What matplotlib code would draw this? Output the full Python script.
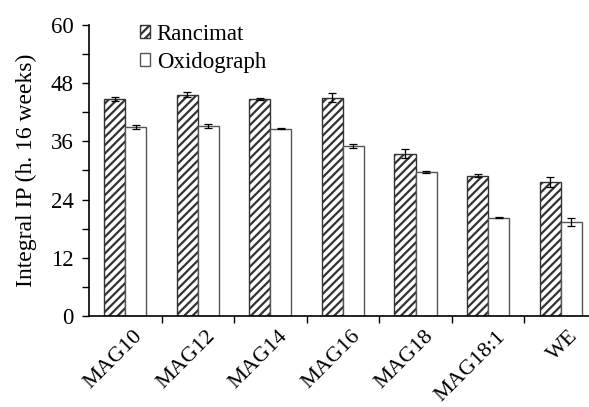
import numpy as np
import matplotlib
matplotlib.use("Agg")
import matplotlib.pyplot as plt
from matplotlib.ticker import MultipleLocator, FixedLocator
from matplotlib.transforms import ScaledTranslation

# data
samples = ["MAG10", "MAG12", "MAG14", "MAG16", "MAG18", "MAG18:1", "WE"]
rancimat = [44.7, 45.6, 44.7, 45.0, 33.5, 28.9, 27.6]
rancimat_err = [0.4, 0.5, 0.2, 0.9, 1.0, 0.3, 1.0]
oxidograph = [39.0, 39.2, 38.6, 35.1, 29.6, 20.3, 19.4]
oxidograph_err = [0.4, 0.4, 0.1, 0.4, 0.2, 0.1, 0.8]

plt.rcParams['font.family'] = ['Liberation Serif', 'DejaVu Serif']
plt.rcParams['hatch.linewidth'] = 1.6

fig = plt.figure(figsize=(5.89, 4.07), dpi=100)
ax = fig.add_axes([0.151, 0.2236, 0.849, 0.715])

x = np.arange(len(samples))
w = 0.29
ax.bar(x - w / 2, rancimat, w, color='white', edgecolor='#333333', hatch='////',
       linewidth=1.0, label='Rancimat')
ax.bar(x + w / 2, oxidograph, w, color='white', edgecolor='#555555',
       linewidth=1.0, label='Oxidograph')
ax.errorbar(x - w / 2, rancimat, yerr=rancimat_err, fmt='none', ecolor='black',
            elinewidth=0.9, capsize=3, capthick=0.9)
ax.errorbar(x + w / 2, oxidograph, yerr=oxidograph_err, fmt='none', ecolor='black',
            elinewidth=0.9, capsize=3, capthick=0.9)

ax.set_ylim(0, 60)
ax.set_xlim(-0.5, 6.39)
ax.yaxis.set_major_locator(MultipleLocator(12))
ax.yaxis.set_minor_locator(MultipleLocator(6))
ax.tick_params(axis='y', which='both', direction='out', length=5, width=1,
               labelsize=16.5, pad=6)
ax.set_ylabel('Integral IP (h. 16 weeks)', fontsize=17, labelpad=10)

ax.set_xticks(x)
ax.set_xticklabels(samples, rotation=45, ha='right', rotation_mode='anchor', fontsize=16)
ax.xaxis.set_minor_locator(FixedLocator(x[:-1] + 0.5))
ax.tick_params(axis='x', which='major', length=0, pad=8)
ax.tick_params(axis='x', which='minor', direction='out', length=5, width=1)
for lab in ax.get_xticklabels():
    lab.set_transform(lab.get_transform() + ScaledTranslation(0.08, 0, fig.dpi_scale_trans))

for s in ['top', 'right']:
    ax.spines[s].set_visible(False)
for s in ['left', 'bottom']:
    ax.spines[s].set_linewidth(1.2)

ax.legend(loc='upper left', bbox_to_anchor=(0.06, 1.075), frameon=False, fontsize=16.5,
          handlelength=0.45, handleheight=0.45, handletextpad=0.3, labelspacing=0.3)

plt.savefig("out.png", dpi=100)
